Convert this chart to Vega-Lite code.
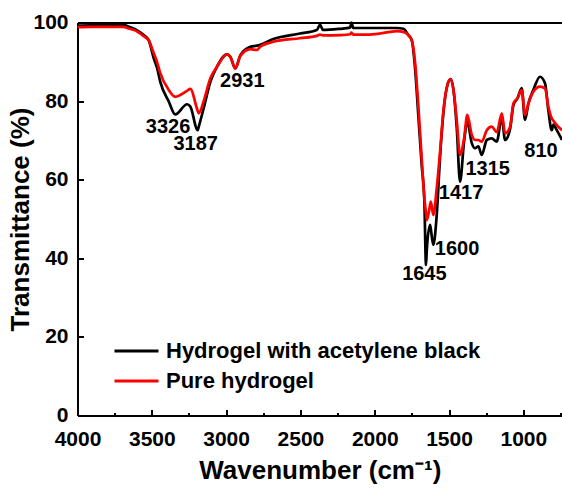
{
  "$schema": "https://vega.github.io/schema/vega-lite/v6.json",
  "width": 484.5,
  "height": 393,
  "autosize": {"type": "none"},
  "padding": {"left": 77.5, "top": 22.5, "right": 0, "bottom": 77.5},
  "background": "white",
  "config": {
    "view": {"stroke": null},
    "font": "Liberation Sans",
    "axis": {"domainColor": "black", "domainWidth": 2, "tickColor": "black", "tickWidth": 2, "grid": false, "labelFont": "Liberation Sans", "labelFontWeight": "bold", "labelFontSize": 21, "labelColor": "black", "titleFont": "Liberation Sans", "titleFontWeight": "bold", "titleFontSize": 26, "titleColor": "black"}
  },
  "datasets": {
    "spectra": [
      {"wn": 4000, "series": "Hydrogel with acetylene black", "t": 99.2}, {"wn": 4000, "series": "Pure hydrogel", "t": 98.8},
      {"wn": 3916, "series": "Hydrogel with acetylene black", "t": 99.3}, {"wn": 3916, "series": "Pure hydrogel", "t": 98.9},
      {"wn": 3781, "series": "Hydrogel with acetylene black", "t": 99.4}, {"wn": 3781, "series": "Pure hydrogel", "t": 98.9},
      {"wn": 3687, "series": "Hydrogel with acetylene black", "t": 99.4}, {"wn": 3687, "series": "Pure hydrogel", "t": 98.9},
      {"wn": 3667, "series": "Hydrogel with acetylene black", "t": 99.1}, {"wn": 3667, "series": "Pure hydrogel", "t": 98.6},
      {"wn": 3613, "series": "Hydrogel with acetylene black", "t": 98.3}, {"wn": 3613, "series": "Pure hydrogel", "t": 98.0},
      {"wn": 3554, "series": "Hydrogel with acetylene black", "t": 96.8}, {"wn": 3554, "series": "Pure hydrogel", "t": 96.5},
      {"wn": 3521, "series": "Hydrogel with acetylene black", "t": 95.5}, {"wn": 3521, "series": "Pure hydrogel", "t": 95.5},
      {"wn": 3487, "series": "Hydrogel with acetylene black", "t": 90.9}, {"wn": 3487, "series": "Pure hydrogel", "t": 92.2},
      {"wn": 3465, "series": "Hydrogel with acetylene black", "t": 88.5}, {"wn": 3465, "series": "Pure hydrogel", "t": 90.0},
      {"wn": 3443, "series": "Hydrogel with acetylene black", "t": 84.9}, {"wn": 3443, "series": "Pure hydrogel", "t": 87.1},
      {"wn": 3386, "series": "Hydrogel with acetylene black", "t": 79.9}, {"wn": 3386, "series": "Pure hydrogel", "t": 82.8},
      {"wn": 3342, "series": "Hydrogel with acetylene black", "t": 76.6}, {"wn": 3342, "series": "Pure hydrogel", "t": 81.1},
      {"wn": 3263, "series": "Hydrogel with acetylene black", "t": 79.2}, {"wn": 3263, "series": "Pure hydrogel", "t": 82.6},
      {"wn": 3241, "series": "Hydrogel with acetylene black", "t": 78.6}, {"wn": 3241, "series": "Pure hydrogel", "t": 83.1},
      {"wn": 3191, "series": "Hydrogel with acetylene black", "t": 72.6}, {"wn": 3191, "series": "Pure hydrogel", "t": 77.5},
      {"wn": 3184, "series": "Hydrogel with acetylene black", "t": 73.5}, {"wn": 3184, "series": "Pure hydrogel", "t": 76.9},
      {"wn": 3151, "series": "Hydrogel with acetylene black", "t": 78.2}, {"wn": 3151, "series": "Pure hydrogel", "t": 80.0},
      {"wn": 3106, "series": "Hydrogel with acetylene black", "t": 84.9}, {"wn": 3106, "series": "Pure hydrogel", "t": 85.8},
      {"wn": 3061, "series": "Hydrogel with acetylene black", "t": 88.8}, {"wn": 3061, "series": "Pure hydrogel", "t": 88.8},
      {"wn": 2994, "series": "Hydrogel with acetylene black", "t": 91.9}, {"wn": 2994, "series": "Pure hydrogel", "t": 91.9},
      {"wn": 2972, "series": "Hydrogel with acetylene black", "t": 91.3}, {"wn": 2972, "series": "Pure hydrogel", "t": 91.3},
      {"wn": 2938, "series": "Hydrogel with acetylene black", "t": 88.3}, {"wn": 2938, "series": "Pure hydrogel", "t": 88.3},
      {"wn": 2904, "series": "Hydrogel with acetylene black", "t": 91.7}, {"wn": 2904, "series": "Pure hydrogel", "t": 91.5},
      {"wn": 2837, "series": "Hydrogel with acetylene black", "t": 93.8}, {"wn": 2837, "series": "Pure hydrogel", "t": 93.2},
      {"wn": 2792, "series": "Hydrogel with acetylene black", "t": 94.1}, {"wn": 2792, "series": "Pure hydrogel", "t": 93.0},
      {"wn": 2772, "series": "Hydrogel with acetylene black", "t": 94.3}, {"wn": 2772, "series": "Pure hydrogel", "t": 93.8},
      {"wn": 2682, "series": "Hydrogel with acetylene black", "t": 95.8}, {"wn": 2682, "series": "Pure hydrogel", "t": 95.1},
      {"wn": 2503, "series": "Hydrogel with acetylene black", "t": 97.2}, {"wn": 2503, "series": "Pure hydrogel", "t": 96.0},
      {"wn": 2390, "series": "Hydrogel with acetylene black", "t": 98.1}, {"wn": 2390, "series": "Pure hydrogel", "t": 96.6},
      {"wn": 2368, "series": "Hydrogel with acetylene black", "t": 99.4}, {"wn": 2368, "series": "Pure hydrogel", "t": 96.9},
      {"wn": 2348, "series": "Hydrogel with acetylene black", "t": 98.1}, {"wn": 2348, "series": "Pure hydrogel", "t": 96.7},
      {"wn": 2234, "series": "Hydrogel with acetylene black", "t": 98.4}, {"wn": 2234, "series": "Pure hydrogel", "t": 96.8},
      {"wn": 2166, "series": "Hydrogel with acetylene black", "t": 98.7}, {"wn": 2166, "series": "Pure hydrogel", "t": 97.0},
      {"wn": 2156, "series": "Hydrogel with acetylene black", "t": 100.0}, {"wn": 2156, "series": "Pure hydrogel", "t": 97.4},
      {"wn": 2145, "series": "Hydrogel with acetylene black", "t": 98.6}, {"wn": 2145, "series": "Pure hydrogel", "t": 96.9},
      {"wn": 2054, "series": "Hydrogel with acetylene black", "t": 98.6}, {"wn": 2054, "series": "Pure hydrogel", "t": 96.9},
      {"wn": 1964, "series": "Hydrogel with acetylene black", "t": 98.6}, {"wn": 1964, "series": "Pure hydrogel", "t": 97.2},
      {"wn": 1897, "series": "Hydrogel with acetylene black", "t": 98.6}, {"wn": 1897, "series": "Pure hydrogel", "t": 97.6},
      {"wn": 1852, "series": "Hydrogel with acetylene black", "t": 98.6}, {"wn": 1852, "series": "Pure hydrogel", "t": 97.8},
      {"wn": 1807, "series": "Hydrogel with acetylene black", "t": 98.4}, {"wn": 1807, "series": "Pure hydrogel", "t": 97.6},
      {"wn": 1774, "series": "Hydrogel with acetylene black", "t": 96.8}, {"wn": 1774, "series": "Pure hydrogel", "t": 96.8},
      {"wn": 1751, "series": "Hydrogel with acetylene black", "t": 95.5}, {"wn": 1751, "series": "Pure hydrogel", "t": 95.5},
      {"wn": 1729, "series": "Hydrogel with acetylene black", "t": 88.5}, {"wn": 1729, "series": "Pure hydrogel", "t": 90.0},
      {"wn": 1707, "series": "Hydrogel with acetylene black", "t": 76.5}, {"wn": 1707, "series": "Pure hydrogel", "t": 79.0},
      {"wn": 1684, "series": "Hydrogel with acetylene black", "t": 63.7}, {"wn": 1684, "series": "Pure hydrogel", "t": 65.4},
      {"wn": 1666, "series": "Hydrogel with acetylene black", "t": 54.4}, {"wn": 1666, "series": "Pure hydrogel", "t": 55.3},
      {"wn": 1655, "series": "Hydrogel with acetylene black", "t": 38.3}, {"wn": 1655, "series": "Pure hydrogel", "t": 51.5},
      {"wn": 1650, "series": "Hydrogel with acetylene black", "t": 42.0}, {"wn": 1650, "series": "Pure hydrogel", "t": 49.7},
      {"wn": 1628, "series": "Hydrogel with acetylene black", "t": 48.5}, {"wn": 1628, "series": "Pure hydrogel", "t": 53.5},
      {"wn": 1623, "series": "Hydrogel with acetylene black", "t": 47.5}, {"wn": 1623, "series": "Pure hydrogel", "t": 54.4},
      {"wn": 1606, "series": "Hydrogel with acetylene black", "t": 43.4}, {"wn": 1606, "series": "Pure hydrogel", "t": 51.0},
      {"wn": 1583, "series": "Hydrogel with acetylene black", "t": 51.0}, {"wn": 1583, "series": "Pure hydrogel", "t": 57.8},
      {"wn": 1561, "series": "Hydrogel with acetylene black", "t": 65.5}, {"wn": 1561, "series": "Pure hydrogel", "t": 66.8},
      {"wn": 1538, "series": "Hydrogel with acetylene black", "t": 77.0}, {"wn": 1538, "series": "Pure hydrogel", "t": 77.6},
      {"wn": 1511, "series": "Hydrogel with acetylene black", "t": 84.1}, {"wn": 1511, "series": "Pure hydrogel", "t": 84.1},
      {"wn": 1489, "series": "Hydrogel with acetylene black", "t": 85.6}, {"wn": 1489, "series": "Pure hydrogel", "t": 85.6},
      {"wn": 1466, "series": "Hydrogel with acetylene black", "t": 81.6}, {"wn": 1466, "series": "Pure hydrogel", "t": 81.6},
      {"wn": 1448, "series": "Hydrogel with acetylene black", "t": 73.1}, {"wn": 1448, "series": "Pure hydrogel", "t": 75.0},
      {"wn": 1426, "series": "Hydrogel with acetylene black", "t": 59.5}, {"wn": 1426, "series": "Pure hydrogel", "t": 66.3},
      {"wn": 1399, "series": "Hydrogel with acetylene black", "t": 69.7}, {"wn": 1399, "series": "Pure hydrogel", "t": 70.5},
      {"wn": 1377, "series": "Hydrogel with acetylene black", "t": 74.8}, {"wn": 1377, "series": "Pure hydrogel", "t": 76.5},
      {"wn": 1347, "series": "Hydrogel with acetylene black", "t": 69.3}, {"wn": 1347, "series": "Pure hydrogel", "t": 71.4},
      {"wn": 1325, "series": "Hydrogel with acetylene black", "t": 68.0}, {"wn": 1325, "series": "Pure hydrogel", "t": 70.1},
      {"wn": 1303, "series": "Hydrogel with acetylene black", "t": 68.5}, {"wn": 1303, "series": "Pure hydrogel", "t": 70.1},
      {"wn": 1280, "series": "Hydrogel with acetylene black", "t": 66.3}, {"wn": 1280, "series": "Pure hydrogel", "t": 69.7},
      {"wn": 1246, "series": "Hydrogel with acetylene black", "t": 70.1}, {"wn": 1246, "series": "Pure hydrogel", "t": 72.6},
      {"wn": 1213, "series": "Hydrogel with acetylene black", "t": 70.5}, {"wn": 1213, "series": "Pure hydrogel", "t": 73.5},
      {"wn": 1179, "series": "Hydrogel with acetylene black", "t": 69.7}, {"wn": 1179, "series": "Pure hydrogel", "t": 72.1},
      {"wn": 1145, "series": "Hydrogel with acetylene black", "t": 75.8}, {"wn": 1145, "series": "Pure hydrogel", "t": 76.9},
      {"wn": 1123, "series": "Hydrogel with acetylene black", "t": 70.1}, {"wn": 1123, "series": "Pure hydrogel", "t": 71.8},
      {"wn": 1089, "series": "Hydrogel with acetylene black", "t": 73.0}, {"wn": 1089, "series": "Pure hydrogel", "t": 73.5},
      {"wn": 1067, "series": "Hydrogel with acetylene black", "t": 79.0}, {"wn": 1067, "series": "Pure hydrogel", "t": 79.4},
      {"wn": 1040, "series": "Hydrogel with acetylene black", "t": 80.7}, {"wn": 1040, "series": "Pure hydrogel", "t": 80.7},
      {"wn": 1011, "series": "Hydrogel with acetylene black", "t": 83.3}, {"wn": 1011, "series": "Pure hydrogel", "t": 82.8},
      {"wn": 989, "series": "Hydrogel with acetylene black", "t": 75.2}, {"wn": 989, "series": "Pure hydrogel", "t": 76.5},
      {"wn": 966, "series": "Hydrogel with acetylene black", "t": 79.4}, {"wn": 966, "series": "Pure hydrogel", "t": 79.4},
      {"wn": 933, "series": "Hydrogel with acetylene black", "t": 82.8}, {"wn": 933, "series": "Pure hydrogel", "t": 82.4},
      {"wn": 888, "series": "Hydrogel with acetylene black", "t": 86.2}, {"wn": 888, "series": "Pure hydrogel", "t": 83.7},
      {"wn": 854, "series": "Hydrogel with acetylene black", "t": 84.5}, {"wn": 854, "series": "Pure hydrogel", "t": 83.2},
      {"wn": 832, "series": "Hydrogel with acetylene black", "t": 77.7}, {"wn": 832, "series": "Pure hydrogel", "t": 78.6},
      {"wn": 809, "series": "Hydrogel with acetylene black", "t": 72.6}, {"wn": 809, "series": "Pure hydrogel", "t": 75.6},
      {"wn": 798, "series": "Hydrogel with acetylene black", "t": 74.0}, {"wn": 798, "series": "Pure hydrogel", "t": 75.0},
      {"wn": 775, "series": "Hydrogel with acetylene black", "t": 72.6}, {"wn": 775, "series": "Pure hydrogel", "t": 73.9},
      {"wn": 740, "series": "Hydrogel with acetylene black", "t": 70.1}, {"wn": 740, "series": "Pure hydrogel", "t": 72.6}
    ],
    "peaks": [
      {"wn": 3391, "t": 73.5, "label": "3326"},
      {"wn": 3205, "t": 69.0, "label": "3187"},
      {"wn": 2891, "t": 85.2, "label": "2931"},
      {"wn": 1666, "t": 36.0, "label": "1645"},
      {"wn": 1446, "t": 42.4, "label": "1600"},
      {"wn": 1419, "t": 56.7, "label": "1417"},
      {"wn": 1240, "t": 62.7, "label": "1315"},
      {"wn": 881, "t": 67.4, "label": "810"}
    ]
  },
  "layer": [
    {
      "data": {"name": "spectra"},
      "mark": {"type": "line", "strokeWidth": 2.7, "interpolate": "monotone"},
      "encoding": {
        "x": {"field": "wn", "type": "quantitative",
          "scale": {"domain": [4000, 740], "nice": false, "zero": false},
          "axis": {"values": [4000, 3750, 3500, 3250, 3000, 2750, 2500, 2250, 2000, 1750, 1500, 1250, 1000, 750],
            "labelExpr": "datum.value % 500 === 0 ? datum.label : ''",
            "format": "d",
            "tickSize": {"condition": {"test": "datum.value % 500 === 0", "value": -6}, "value": -3},
            "labelPadding": 19, "labelFlush": false, "labelOverlap": false,
            "title": "Wavenumber (cm⁻¹)", "titleY": 62.5, "titleBaseline": "alphabetic"}},
        "y": {"field": "t", "type": "quantitative",
          "scale": {"domain": [0, 100], "nice": false},
          "axis": {"values": [0, 10, 20, 30, 40, 50, 60, 70, 80, 90, 100],
            "labelExpr": "datum.value % 20 === 0 ? datum.label : ''",
            "tickSize": {"condition": {"test": "datum.value % 20 === 0", "value": -6}, "value": -3},
            "labelPadding": 15.5, "labelFlush": false, "labelOverlap": false,
            "title": "Transmittance (%)", "titleX": -57.5, "titleY": 196.5, "titleAngle": -90, "titleBaseline": "middle", "titleAlign": "center"}},
        "color": {"field": "series", "type": "nominal",
          "scale": {"domain": ["Hydrogel with acetylene black", "Pure hydrogel"], "range": ["#000000", "#ff0000"]},
          "legend": {"title": null, "orient": "none", "legendX": 35.5, "legendY": 318.5, "clipHeight": 20, "symbolType": "stroke", "symbolSize": 1936, "symbolStrokeWidth": 3, "labelFont": "Liberation Sans", "labelFontWeight": "bold", "labelFontSize": 22, "labelColor": "black", "labelLimit": 0, "rowPadding": 8, "labelOffset": 6, "padding": 0}}
      }
    },
    {
      "data": {"name": "peaks"},
      "mark": {"type": "text", "font": "Liberation Sans", "fontWeight": "bold", "fontSize": 20, "align": "center", "baseline": "middle", "color": "black"},
      "encoding": {
        "x": {"field": "wn", "type": "quantitative", "axis": {"orient": "top", "labels": false, "ticks": false, "title": null, "domain": true}},
        "y": {"field": "t", "type": "quantitative"},
        "text": {"field": "label"}
      }
    }
  ],
  "resolve": {"axis": {"x": "independent"}}
}
